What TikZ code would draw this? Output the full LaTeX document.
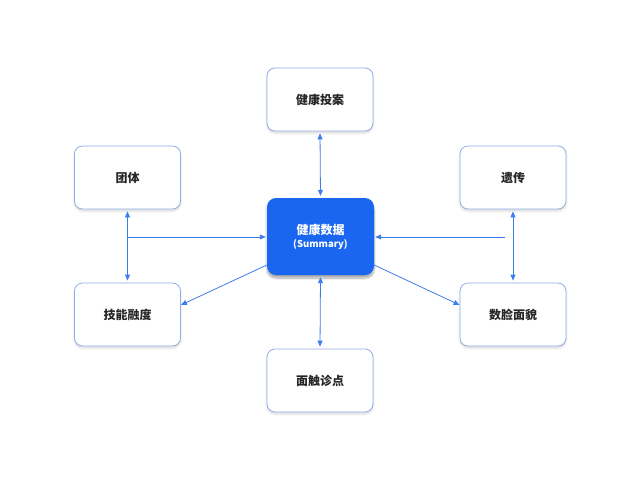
\documentclass[tikz,border=0pt]{standalone}
\usepackage{fontspec}
\setmainfont{Noto Sans CJK SC}
\usetikzlibrary{arrows.meta,shadows.blur}
\definecolor{bl}{HTML}{1A66F0}
\definecolor{bd}{HTML}{8FAEE6}
\begin{document}
\begin{tikzpicture}[x=1pt,y=-1pt,
 box/.style={draw=bd,line width=0.8pt,fill=white,rounded corners=8pt,minimum width=106pt,minimum height=63pt,font=\fontsize{12}{14}\selectfont\bfseries,text=black!85,blur shadow={shadow blur steps=6,shadow xshift=0pt,shadow yshift=-2pt,shadow opacity=15}},
 cbox/.style={fill=bl,rounded corners=9pt,minimum width=107pt,minimum height=77pt,text=white,align=center,font=\fontsize{12}{14}\selectfont\bfseries,blur shadow={shadow blur steps=8,shadow xshift=0pt,shadow yshift=-3pt,shadow opacity=35}},
 con/.style={draw=bl!85,line width=0.8pt},
 tip/.style={-{Triangle[length=6pt,width=5pt]}},
 tips/.style={{Triangle[length=6pt,width=5pt]}-{Triangle[length=6pt,width=5pt]}}]
\useasboundingbox (0,0) rectangle (640,480);
\node[box] (t) at (320,99.5) {健康投案};
\node[box] (lt) at (127.5,177.5) {团体};
\node[box] (rt) at (513,177.5) {遗传};
\node[box] (lb) at (127.5,314.5) {技能融度};
\node[box] (rb) at (513,314.5) {数脸面貌};
\node[box] (b) at (320,380.5) {面触诊点};
\node[cbox] (c) at (320.5,236.5) {健康数据\\[-1pt]{\fontsize{9.5}{11}\selectfont (Summary)}};
\coordinate (lj) at (127,237);
\coordinate (rj) at (505,237);
\draw[con,tips,shorten <=2pt,shorten >=2pt] (t.south) -- (c.north);
\draw[con,tips,shorten <=2pt,shorten >=2pt] (c.south) -- (b.north);
\draw[con,tips,shorten <=2pt,shorten >=2pt] (lt.south) -- (lb.north);
\draw[con,tips,shorten <=2pt,shorten >=2pt] (rt.south) -- (rb.north);
\draw[con,tip,shorten >=1pt] (lj) -- (c.west|-lj);
\draw[con,tip,shorten >=1pt] (rj) -- (c.east|-rj);
\draw[con,tip] (c.west|-0,265) -- (lb.east|-0,305);
\draw[con,tip] (c.east|-0,265) -- (rb.west|-0,305);
\end{tikzpicture}
\end{document}
